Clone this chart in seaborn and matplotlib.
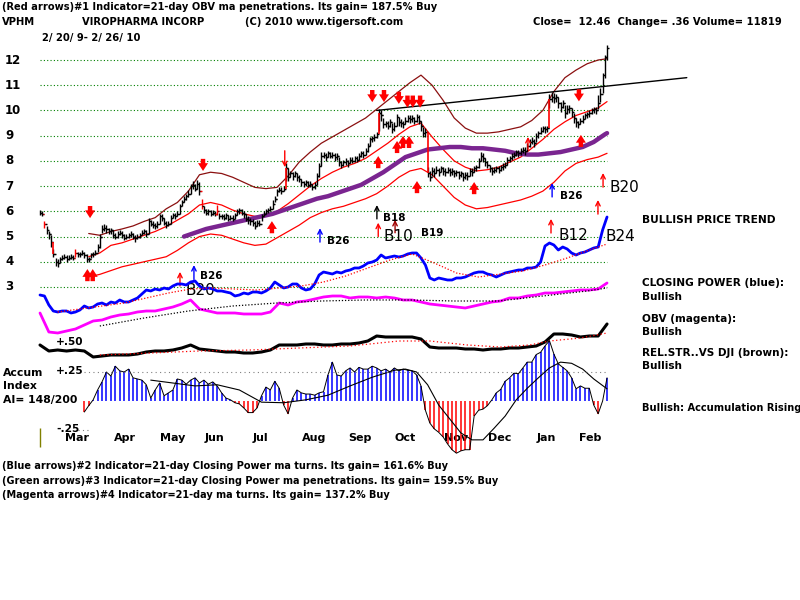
import numpy as np
import matplotlib
matplotlib.use("Agg")
import matplotlib.pyplot as plt
import seaborn as sns

# ---------------- price data: one bar per trading day, 2/20/09 - 2/26/10 ----------------
closes = [5.95, 5.9, 5.5, 5.25, 5.1, 4.8, 4.3, 4.0, 3.95, 4.1,
          4.15, 4.2, 4.1, 4.15, 4.2, 4.15, 4.35, 4.3, 4.3, 4.35,
          4.25, 4.1, 4.1, 4.3, 4.3, 4.35, 4.6, 5.0, 5.3, 5.35,
          5.3, 5.2, 5.25, 5.05, 5.0, 5.1, 5.15, 5.05, 4.95, 5.0,
          5.05, 5.1, 5.0, 4.95, 5.0, 5.05, 5.15, 5.2, 5.1, 5.6,
          5.5, 5.45, 5.4, 5.5, 5.8, 5.75, 5.55, 5.45, 5.5, 5.75,
          5.85, 5.8, 5.9, 6.2, 6.35, 6.5, 6.6, 6.7, 7.0, 7.05,
          6.9, 7.1, 6.8, 6.2, 6.05, 5.95, 6.0, 5.9, 5.95, 5.9,
          6.0, 5.8, 5.8, 5.75, 5.85, 5.7, 5.75, 5.7, 5.85, 6.0,
          6.05, 5.95, 5.9, 5.7, 5.65, 5.6, 5.55, 5.4, 5.55, 5.5,
          5.8, 5.9, 6.0, 6.05, 6.1, 6.3, 6.5, 6.8, 6.85, 6.8,
          6.9, 7.7, 7.35, 7.5, 7.4, 7.5, 7.35, 7.3, 7.15, 7.1,
          7.15, 7.05, 7.1, 6.95, 7.05, 7.4, 7.8, 8.2, 8.25, 8.15,
          8.3, 8.2, 8.25, 8.15, 8.2, 7.95, 7.85, 7.95, 8.0, 7.9,
          8.05, 8.0, 8.1, 8.05, 8.2, 8.3, 8.25, 8.4, 8.6, 8.85,
          8.9, 8.95, 9.05, 9.9, 9.8, 9.45, 9.5, 9.4, 9.55, 9.25,
          9.4, 9.75, 9.55, 9.5, 9.45, 9.6, 9.7, 9.65, 9.7, 9.6,
          9.75, 9.6, 9.4, 9.1, 9.15, 7.5, 7.35, 7.6, 7.5, 7.65,
          7.55, 7.7, 7.6, 7.55, 7.65, 7.55, 7.6, 7.5, 7.55, 7.45,
          7.5, 7.35, 7.45, 7.4, 7.6, 7.55, 7.7, 7.75, 8.0, 8.2,
          8.1, 7.95, 7.85, 7.7, 7.6, 7.65, 7.7, 7.65, 7.75, 7.8,
          7.85, 8.05, 8.1, 8.2, 8.25, 8.35, 8.3, 8.4, 8.45, 8.4,
          8.6, 8.75, 8.8, 8.7, 9.0, 9.1, 9.2, 9.3, 9.25, 9.3,
          10.45, 10.55, 10.5, 10.55, 10.3, 10.15, 10.3, 9.9, 10.05, 10.1,
          9.95, 9.7, 9.55, 9.45, 9.6, 9.65, 9.8, 9.85, 9.9, 10.0,
          10.05, 10.0, 10.3, 10.65, 11.4, 12.1, 12.46]
highs = [6.05, 6.0, 5.6, 5.4, 5.2, 5.05, 4.5, 4.15, 4.1, 4.2,
         4.25, 4.3, 4.25, 4.25, 4.3, 4.25, 4.5, 4.4, 4.4, 4.45,
         4.4, 4.3, 4.2, 4.35, 4.4, 4.45, 4.7, 5.1, 5.45, 5.5,
         5.45, 5.35, 5.35, 5.25, 5.15, 5.2, 5.25, 5.2, 5.1, 5.1,
         5.15, 5.2, 5.15, 5.05, 5.1, 5.15, 5.25, 5.3, 5.25, 5.75,
         5.65, 5.6, 5.55, 5.6, 5.9, 5.9, 5.75, 5.6, 5.6, 5.85,
         5.95, 5.95, 6.0, 6.3, 6.45, 6.6, 6.7, 6.85, 7.1, 7.2,
         7.1, 7.25, 7.15, 6.5, 6.2, 6.1, 6.1, 6.05, 6.05, 6.0,
         6.25, 5.95, 5.9, 5.9, 5.95, 5.85, 5.85, 5.85, 5.95, 6.1,
         6.15, 6.1, 6.0, 5.9, 5.8, 5.75, 5.7, 5.6, 5.65, 5.65,
         5.9, 6.0, 6.1, 6.15, 6.2, 6.45, 6.6, 6.9, 6.95, 6.95,
         7.0, 7.9, 7.7, 7.6, 7.55, 7.6, 7.5, 7.45, 7.3, 7.2,
         7.25, 7.2, 7.2, 7.1, 7.15, 7.5, 7.9, 8.35, 8.35, 8.3,
         8.4, 8.35, 8.35, 8.3, 8.3, 8.15, 8.0, 8.05, 8.1, 8.05,
         8.15, 8.15, 8.2, 8.2, 8.3, 8.4, 8.4, 8.5, 8.7, 8.95,
         9.0, 9.05, 9.15, 10.05, 10.0, 9.7, 9.6, 9.6, 9.65, 9.5,
         9.55, 9.85, 9.75, 9.65, 9.6, 9.75, 9.8, 9.8, 9.8, 9.75,
         9.85, 9.8, 9.6, 9.35, 9.3, 7.75, 7.6, 7.75, 7.7, 7.8,
         7.7, 7.8, 7.75, 7.7, 7.75, 7.7, 7.7, 7.65, 7.65, 7.6,
         7.6, 7.5, 7.55, 7.55, 7.7, 7.7, 7.8, 7.85, 8.1, 8.35,
         8.3, 8.1, 8.0, 7.85, 7.75, 7.75, 7.8, 7.8, 7.85, 7.9,
         7.95, 8.15, 8.2, 8.3, 8.35, 8.45, 8.45, 8.5, 8.55, 8.55,
         8.7, 8.85, 8.95, 8.85, 9.1, 9.2, 9.35, 9.4, 9.4, 9.4,
         10.65, 10.75, 10.7, 10.65, 10.55, 10.35, 10.4, 10.2, 10.2, 10.2,
         10.1, 9.9, 9.7, 9.6, 9.7, 9.8, 9.9, 9.95, 10.0, 10.1,
         10.15, 10.15, 10.6, 10.9, 11.5, 12.2, 12.6]
lows = [5.85, 5.8, 5.35, 5.1, 4.9, 4.6, 4.2, 3.85, 3.8, 3.95,
        4.05, 4.1, 4.0, 4.05, 4.1, 4.05, 4.2, 4.2, 4.2, 4.25,
        4.15, 4.0, 4.0, 4.15, 4.2, 4.25, 4.4, 4.55, 5.15, 5.2,
        5.15, 5.1, 5.1, 4.95, 4.9, 4.95, 5.05, 4.95, 4.85, 4.9,
        4.95, 5.0, 4.9, 4.8, 4.9, 4.95, 5.05, 5.1, 5.0, 5.1,
        5.4, 5.35, 5.3, 5.35, 5.5, 5.6, 5.45, 5.35, 5.4, 5.5,
        5.75, 5.7, 5.8, 5.9, 6.2, 6.35, 6.45, 6.55, 6.7, 6.9,
        6.8, 6.9, 6.65, 6.1, 5.95, 5.85, 5.85, 5.8, 5.85, 5.8,
        5.85, 5.7, 5.7, 5.65, 5.7, 5.6, 5.65, 5.6, 5.7, 5.85,
        5.9, 5.85, 5.75, 5.6, 5.5, 5.45, 5.4, 5.3, 5.4, 5.4,
        5.6, 5.8, 5.9, 5.95, 6.0, 6.1, 6.35, 6.6, 6.75, 6.7,
        6.8, 7.2, 7.2, 7.35, 7.25, 7.35, 7.2, 7.15, 7.0, 6.95,
        7.0, 6.95, 6.95, 6.85, 6.9, 7.05, 7.35, 7.8, 8.1, 8.0,
        8.15, 8.1, 8.1, 8.0, 8.05, 7.8, 7.7, 7.8, 7.85, 7.75,
        7.9, 7.9, 7.95, 7.95, 8.05, 8.15, 8.1, 8.25, 8.35, 8.6,
        8.75, 8.8, 8.9, 9.2, 9.6, 9.3, 9.35, 9.25, 9.35, 9.1,
        9.2, 9.4, 9.4, 9.35, 9.3, 9.45, 9.55, 9.5, 9.55, 9.45,
        9.55, 9.45, 9.2, 8.95, 8.95, 7.35, 7.2, 7.4, 7.35, 7.5,
        7.4, 7.55, 7.45, 7.4, 7.5, 7.4, 7.45, 7.35, 7.4, 7.3,
        7.35, 7.2, 7.3, 7.25, 7.4, 7.4, 7.55, 7.6, 7.7, 8.0,
        7.95, 7.8, 7.7, 7.55, 7.45, 7.5, 7.55, 7.5, 7.6, 7.65,
        7.7, 7.85, 7.95, 8.05, 8.1, 8.2, 8.15, 8.25, 8.3, 8.25,
        8.4, 8.55, 8.65, 8.55, 8.75, 8.9, 9.05, 9.15, 9.1, 9.15,
        10.1, 10.35, 10.3, 10.35, 10.1, 9.95, 10.1, 9.7, 9.85, 9.9,
        9.75, 9.5, 9.35, 9.3, 9.45, 9.5, 9.65, 9.7, 9.75, 9.85,
        9.9, 9.85, 10.05, 10.35, 10.7, 11.3, 12.0]
red_bars = [2, 16, 73, 80]
gap_days = [6, 111, 153, 175, 230]

# bands (sampled every 5 trading days)
band_days = list(range(22, 253, 5)) + [256]
upper_band = [5.12, 5.05, 5.2, 5.3, 5.42, 5.6, 5.75, 6.1, 6.35, 6.8,
              7.45, 7.55, 7.5, 7.35, 7.15, 6.95, 6.9, 6.95, 7.4, 7.95,
              8.35, 8.7, 8.95, 9.2, 9.45, 9.7, 10.05, 10.4, 10.75, 11.1,
              11.4, 11.0, 10.4, 9.7, 9.3, 9.1, 9.1, 9.15, 9.25, 9.35,
              9.6, 10.0, 10.75, 11.3, 11.6, 11.85, 12.0, 12.05]
mid_band = [4.2, 4.35, 4.65, 4.75, 4.9, 5.05, 5.2, 5.4, 5.65, 5.9,
            6.25, 6.35, 6.25, 6.05, 5.9, 5.8, 5.8, 6.0, 6.3, 6.65,
            7.0, 7.3, 7.55, 7.75, 7.9, 8.1, 8.4, 8.7, 9.05, 9.35,
            9.5, 8.95, 8.45, 8.0, 7.75, 7.6, 7.65, 7.75, 7.95, 8.15,
            8.5, 8.85, 9.25, 9.55, 9.8, 9.95, 10.1, 10.35]
lower_band = [3.4, 3.5, 3.65, 3.8, 3.9, 4.0, 4.1, 4.2, 4.45, 4.75,
              5.0, 5.1, 5.05, 4.9, 4.75, 4.65, 4.7, 4.95, 5.2, 5.45,
              5.75, 5.95, 6.1, 6.2, 6.35, 6.5, 6.7, 7.0, 7.35, 7.6,
              7.7, 7.45, 7.0, 6.55, 6.25, 6.1, 6.15, 6.25, 6.35, 6.45,
              6.6, 6.8, 7.15, 7.6, 7.9, 8.05, 8.15, 8.3]
ma_days = list(range(65, 256, 5)) + [256]
ma_long = [5.0, 5.15, 5.3, 5.4, 5.5, 5.6, 5.7, 5.8, 5.9, 6.05,
           6.2, 6.35, 6.5, 6.6, 6.75, 6.9, 7.05, 7.3, 7.55, 7.85,
           8.15, 8.3, 8.45, 8.5, 8.55, 8.55, 8.5, 8.5, 8.45, 8.4,
           8.3, 8.25, 8.25, 8.3, 8.35, 8.45, 8.55, 8.75, 9.05, 9.1]
trend_days = [152, 292]
trend_vals = [10.0, 11.3]

# closing power (every 2 days) and its ma
cp_days = list(range(0, 257, 2))
closing_power = [3.5, 3.4, 2.5, 1.9, 1.8, 1.9, 1.9, 1.7, 1.8, 2.0,
                 2.4, 2.2, 2.3, 2.6, 2.7, 2.5, 2.8, 2.7, 3.0, 2.8,
                 2.8, 3.0, 3.2, 3.6, 4.0, 3.9, 4.1, 4.0, 4.2, 4.1,
                 4.4, 4.6, 4.6, 4.5, 4.8, 4.9, 4.4, 4.1, 4.2, 4.1,
                 3.9, 3.9, 3.8, 3.7, 3.4, 3.5, 3.7, 3.6, 3.8, 3.8,
                 3.7, 3.9, 4.2, 4.8, 4.5, 4.2, 4.3, 4.6, 4.6, 4.2,
                 4.0, 4.1, 4.6, 5.5, 5.8, 5.7, 5.6, 5.8, 5.7, 5.9,
                 6.0, 6.2, 6.2, 6.4, 6.7, 6.8, 7.0, 7.5, 7.2, 7.3,
                 7.4, 7.3, 7.4, 7.6, 7.7, 7.7, 7.2, 6.5, 5.2, 5.0,
                 5.2, 5.1, 5.0, 5.0, 5.2, 5.2, 5.3, 5.5, 5.7, 5.8,
                 5.8, 5.6, 5.5, 5.3, 5.5, 5.7, 5.8, 5.9, 6.0, 6.0,
                 6.2, 6.2, 6.3, 6.8, 8.4, 8.7, 8.5, 8.0, 8.3, 8.1,
                 7.7, 7.5, 7.7, 7.8, 8.0, 8.2, 8.3, 10.0, 11.3]
cp_ma_days = [8, 18, 28, 38, 48, 58, 68, 78, 88, 98, 108, 118, 128,
              138, 148, 158, 168, 178, 188, 198, 208, 218, 228, 238, 248, 256]
cp_ma = [1.8, 2.1, 2.4, 2.7, 3.2, 3.7, 4.1, 4.2, 4.1, 4.0, 4.2, 4.4, 4.8,
         5.4, 6.2, 7.0, 7.6, 6.7, 5.7, 5.3, 5.6, 5.9, 6.5, 7.2, 8.0, 8.6]

# OBV and relative strength (every 4 days)
ind_days = list(range(0, 257, 4))
obv = [2.7, 0.8, 0.7, 0.9, 1.1, 1.5, 1.9, 2.0, 2.3, 2.5,
       2.6, 2.8, 2.9, 2.9, 3.1, 3.3, 3.6, 4.0, 3.1, 2.9,
       2.7, 2.7, 2.7, 2.6, 2.6, 2.6, 2.8, 3.7, 3.5, 3.8,
       3.9, 4.1, 4.3, 4.4, 4.4, 4.2, 4.3, 4.3, 4.2, 4.3,
       4.2, 4.0, 4.0, 3.8, 3.6, 3.5, 3.4, 3.3, 3.2, 3.4,
       3.6, 3.8, 3.9, 4.2, 4.2, 4.4, 4.5, 4.7, 4.7, 4.8,
       4.9, 5.0, 5.0, 5.1, 5.7]
obv_ma_days = [27, 47, 67, 87, 107, 127, 147, 167, 187, 207, 227, 247, 256]
obv_ma = [1.4, 2.2, 2.9, 3.4, 3.7, 3.9, 4.0, 4.0, 3.9, 3.9, 4.4, 4.9, 5.2]
rel_str = [2.0, 1.4, 1.5, 1.4, 1.5, 1.4, 0.8, 0.9, 1.0, 1.0,
           1.0, 1.1, 1.3, 1.4, 1.4, 1.5, 1.7, 2.0, 1.6, 1.5,
           1.4, 1.3, 1.3, 1.2, 1.2, 1.3, 1.5, 2.0, 2.0, 2.0,
           2.1, 2.1, 2.0, 2.0, 2.1, 2.1, 2.2, 2.4, 2.9, 2.8,
           2.8, 2.8, 2.8, 2.6, 1.8, 1.7, 1.7, 1.7, 1.6, 1.6,
           1.5, 1.6, 1.6, 1.7, 1.7, 1.8, 1.9, 2.3, 3.1, 3.1,
           3.0, 2.8, 2.9, 2.9, 4.1]
rs_ma_days = [27, 50, 72, 95, 117, 140, 162, 176, 193, 208, 221, 230, 244, 256]
rs_ma = [1.0, 1.2, 1.4, 1.5, 1.7, 1.9, 2.4, 2.4, 2.0, 1.8, 2.0, 2.4, 2.7, 3.2]

# accumulation index (every 2 days) and its ma
ai_days = list(range(20, 257, 2))
accum = [-0.095, -0.04, 0.01, 0.095, 0.165, 0.25, 0.215, 0.30, 0.26, 0.25,
         0.275, 0.20, 0.19, 0.18, 0.14, 0.025, 0.095, 0.155, 0.045, 0.07,
         0.095, 0.19, 0.18, 0.145, 0.18, 0.20, 0.155, 0.18, 0.145, 0.165,
         0.13, 0.07, 0.025, 0.01, -0.015, -0.025, -0.06, -0.10, -0.10, -0.06,
         0.045, 0.12, 0.095, 0.17, 0.11, -0.035, -0.11, 0.025, 0.095, 0.07,
         0.06, 0.06, 0.05, 0.07, 0.08, 0.225, 0.335, 0.225, 0.215, 0.26,
         0.285, 0.25, 0.29, 0.275, 0.275, 0.30, 0.285, 0.26, 0.275, 0.25,
         0.285, 0.26, 0.275, 0.265, 0.26, 0.225, 0.13, -0.08, -0.19, -0.24,
         -0.27, -0.31, -0.37, -0.42, -0.45, -0.43, -0.42, -0.42, -0.13, -0.08,
         -0.07, -0.04, 0.01, 0.07, 0.10, 0.17, 0.20, 0.24, 0.235, 0.285,
         0.335, 0.335, 0.40, 0.42, 0.475, 0.52, 0.405, 0.32, 0.29, 0.26,
         0.20, 0.105, 0.13, 0.11, 0.11, -0.035, -0.11, 0.0, 0.20]
ai_ma_days = [50, 60, 70, 80, 90, 100, 110, 120, 130, 140, 150, 160, 165, 170, 175,
              180, 190, 195, 200, 205, 210, 215, 220, 225, 230, 235, 240, 245, 250, 256]
ai_ma = [0.18, 0.155, 0.13, 0.14, 0.095, -0.01, -0.015, 0.01, 0.05, 0.13, 0.205, 0.265,
         0.275, 0.25, 0.14, -0.035, -0.275, -0.335, -0.335, -0.235, -0.13, 0.01, 0.11,
         0.20, 0.285, 0.335, 0.325, 0.275, 0.19, 0.105]

months = ['Mar', 'Apr', 'May', 'Jun', 'Jul', 'Aug', 'Sep', 'Oct', 'Nov', 'Dec', 'Jan', 'Feb']
month_start = [6, 28, 49, 69, 91, 113, 134, 155, 177, 197, 219, 238]

# signal arrows: day, price
red_down_days = [22.6, 73.6, 150, 155.3, 162, 165.9, 168.3, 171.6, 243.3]
red_down_px = [5.97, 7.84, 10.57, 10.57, 10.5, 10.35, 10.35, 10.35, 10.6]
red_up_days = [21.4, 23.8, 104.7, 152.7, 161.2, 163.9, 166.6, 170.2, 196, 244.2]
red_up_px = [3.47, 3.47, 5.37, 7.95, 8.55, 8.75, 8.75, 6.96, 6.92, 8.79]
thin_days = [63.2, 152.7, 230.7, 251.9, 254.2, 220.3, 160.3, 69.5, 126.4, 231.2, 152.1, 110.5]
thin_from = [3.04, 5.0, 5.14, 5.89, 6.96, 8.45, 5.15, 3.3, 4.78, 6.57, 5.7, 8.4]
thin_to = [3.6, 5.55, 5.7, 6.45, 7.52, 8.95, 5.66, 3.87, 5.33, 7.12, 6.25, 7.75]
thin_col = ['red', 'red', 'red', 'red', 'red', 'red', '#a00000', 'blue', 'blue', 'blue', 'black', 'red']
sig_labels = ['B20', 'B26', 'B26', 'B18', 'B10', 'B19', 'B12', 'B24', 'B26', 'B20']
sig_days = [65.9, 72.2, 129.6, 154.9, 155.3, 172, 234.3, 255.1, 234.8, 257.3]
sig_px = [2.88, 3.44, 4.82, 5.74, 5.02, 5.14, 5.06, 5.0, 6.6, 6.96]
sig_big = [True, False, False, False, True, False, True, True, False, True]

# ---------------- layout: pixel mapping ----------------
W, H = 800, 600
LEFT_PX, PX_PER_DAY = 40, 2.215
P12_PX, PX_PER_DOLLAR = 60, 25.22
ARROW_HALF = 0.24   # half length of the thick signal arrows, in dollars

sns.set_theme(style="white")
plt.rcParams['font.family'] = ['DejaVu Sans']
plt.rcParams['text.color'] = 'black'

fig = plt.figure(figsize=(8, 6), dpi=100)
fig.patch.set_facecolor('white')
xlim = (-LEFT_PX / PX_PER_DAY, (W - LEFT_PX) / PX_PER_DAY)

ax = fig.add_axes([0, 0, 1, 1])
ax.set_xlim(xlim)
ax.set_ylim(12 - (H - P12_PX) / PX_PER_DOLLAR, 12 + P12_PX / PX_PER_DOLLAR)
ax.axis('off')


def overlay(zero_px, px_per_unit):
    a = fig.add_axes([0, 0, 1, 1], facecolor='none')
    a.set_xlim(xlim)
    a.set_ylim((zero_px - H) / px_per_unit, zero_px / px_per_unit)
    a.axis('off')
    return a


# grid lines
ax.hlines(range(3, 13), 0, len(closes) - 1, colors='#008000', linestyles=(0, (1, 2)), lw=0.8)
for p in range(3, 13):
    ax.text(5 / W, p, str(p), transform=ax.get_yaxis_transform(), fontsize=8.5,
            weight='bold', ha='left', va='center')

# bands and long ma
sns.lineplot(x=band_days, y=upper_band, ax=ax, color='#8b1010', lw=0.9, legend=False)
sns.lineplot(x=band_days, y=mid_band, ax=ax, color='red', lw=0.9, legend=False)
sns.lineplot(x=band_days, y=lower_band, ax=ax, color='red', lw=0.9, legend=False)
sns.lineplot(x=ma_days, y=ma_long, ax=ax, color='#7a2590', lw=3.2, legend=False)
sns.lineplot(x=trend_days, y=trend_vals, ax=ax, color='black', lw=1, legend=False)

# price bars
days = np.arange(len(closes))
bar_col = ['red' if d in red_bars else 'black' for d in days]
ax.vlines(days, lows, highs, colors=bar_col, lw=1)
ax.hlines(closes, days, days + 0.8, colors=bar_col, lw=1)
ax.hlines(closes[:-1], days[1:] - 0.8, days[1:], colors=bar_col[1:], lw=1)
ax.vlines(gap_days, [closes[d - 1] for d in gap_days], [closes[d] for d in gap_days],
          colors='red', lw=1.2)

# arrows and signal labels
thick = dict(arrowstyle='simple,head_width=0.9,head_length=0.7,tail_width=0.4',
             color='red', lw=0, shrinkA=0, shrinkB=0, mutation_scale=8)
for d, p in zip(red_down_days, red_down_px):
    ax.annotate('', xy=(d, p - ARROW_HALF), xytext=(d, p + ARROW_HALF), arrowprops=thick)
for d, p in zip(red_up_days, red_up_px):
    ax.annotate('', xy=(d, p + ARROW_HALF), xytext=(d, p - ARROW_HALF), arrowprops=thick)
for d, a, b, c in zip(thin_days, thin_from, thin_to, thin_col):
    ax.annotate('', xy=(d, b), xytext=(d, a),
                arrowprops=dict(arrowstyle='->', color=c, lw=1, shrinkA=0, shrinkB=0,
                                mutation_scale=8))
for s, d, p, big in zip(sig_labels, sig_days, sig_px, sig_big):
    if big:
        ax.text(d, p, s, fontsize=11, ha='left', va='center')
    else:
        ax.text(d, p, s, fontsize=7.5, weight='bold', ha='left', va='center')

# closing power
cp_ax = overlay(330, 10)
sns.lineplot(x=cp_days, y=closing_power, ax=cp_ax, color='blue', lw=2, legend=False)
sns.lineplot(x=cp_ma_days, y=cp_ma, ax=cp_ax, color='red', lw=0.9, ls=(0, (1, 1.5)), legend=False)

# obv
obv_ax = overlay(340, 10)
sns.lineplot(x=ind_days, y=obv, ax=obv_ax, color='#ff00ff', lw=2, legend=False)
sns.lineplot(x=obv_ma_days, y=obv_ma, ax=obv_ax, color='black', lw=0.9, ls=(0, (1, 1.5)), legend=False)

# relative strength
rs_ax = overlay(365, 10)
sns.lineplot(x=ind_days, y=rel_str, ax=rs_ax, color='black', lw=2.2, legend=False)
sns.lineplot(x=rs_ma_days, y=rs_ma, ax=rs_ax, color='red', lw=0.9, ls=(0, (1, 2)), legend=False)

# accumulation index
ai_ax = overlay(401, 116)
ai_col = ['blue' if v >= 0 else 'red' for v in accum]
ai_ax.vlines(ai_days, 0, accum, colors=ai_col, lw=1.1)
sns.lineplot(x=ai_days, y=accum, ax=ai_ax, color='black', lw=0.7, legend=False)
sns.lineplot(x=ai_ma_days, y=ai_ma, ax=ai_ax, color='black', lw=0.8, legend=False)
ai_ax.hlines(0.25, ai_days[0], ai_days[-1], colors='gray', linestyles=(0, (1, 3)), lw=0.8)
ai_ax.hlines(-0.25, 17, 22, colors='gray', linestyles=(0, (1, 3)), lw=0.8)
ai_ax.vlines(0, -0.4, -0.23, colors='#808000', lw=1)

for m, d in zip(months, month_start):
    ax.annotate(m, xy=(d, 1 - 438 / H), xycoords=ax.get_xaxis_transform(),
                xytext=(11.5, 0), textcoords='offset pixels',
                fontsize=8, weight='bold', ha='left', va='center')


def ftext(x, y, s, size=7.2):
    fig.text(x / W, 1 - y / H, s, fontsize=size, weight='bold', ha='left', va='center')


ftext(2, 7, '(Red arrows)#1 Indicator=21-day OBV ma penetrations. Its gain= 187.5% Buy', 7.1)
ftext(2, 22, 'VPHM')
ftext(82, 22, 'VIROPHARMA INCORP')
ftext(245, 22, '(C) 2010 www.tigersoft.com')
ftext(533, 22, 'Close=  12.46  Change= .36 Volume= 11819')
ftext(42, 38, '2/ 20/ 9- 2/ 26/ 10')

ftext(642, 220, 'BULLISH PRICE TREND', 7.7)
ftext(642, 283, 'CLOSING POWER (blue):', 7.6)
ftext(642, 297, 'Bullish', 7.6)
ftext(642, 319, 'OBV (magenta):', 7.6)
ftext(642, 332, 'Bullish', 7.6)
ftext(642, 353, 'REL.STR..VS DJI (brown):', 7.5)
ftext(642, 366, 'Bullish', 7.6)
ftext(642, 408, 'Bullish: Accumulation Rising', 7.1)

ftext(3, 373, 'Accum', 7.8)
ftext(3, 386, 'Index', 7.8)
ftext(3, 400, 'AI= 148/200', 7.8)
ftext(56, 342, '+.50', 7.6)
ftext(56, 371, '+.25', 7.6)
ftext(56, 429, '-.25', 7.6)

ftext(2, 466, '(Blue arrows)#2 Indicator=21-day Closing Power ma turns. Its gain= 161.6% Buy', 7.0)
ftext(2, 481, '(Green arrows)#3 Indicator=21-day Closing Power ma penetrations. Its gain= 159.5% Buy', 7.0)
ftext(2, 495, '(Magenta arrows)#4 Indicator=21-day ma turns. Its gain= 137.2% Buy', 7.0)

fig.savefig('out.png', dpi=100)
